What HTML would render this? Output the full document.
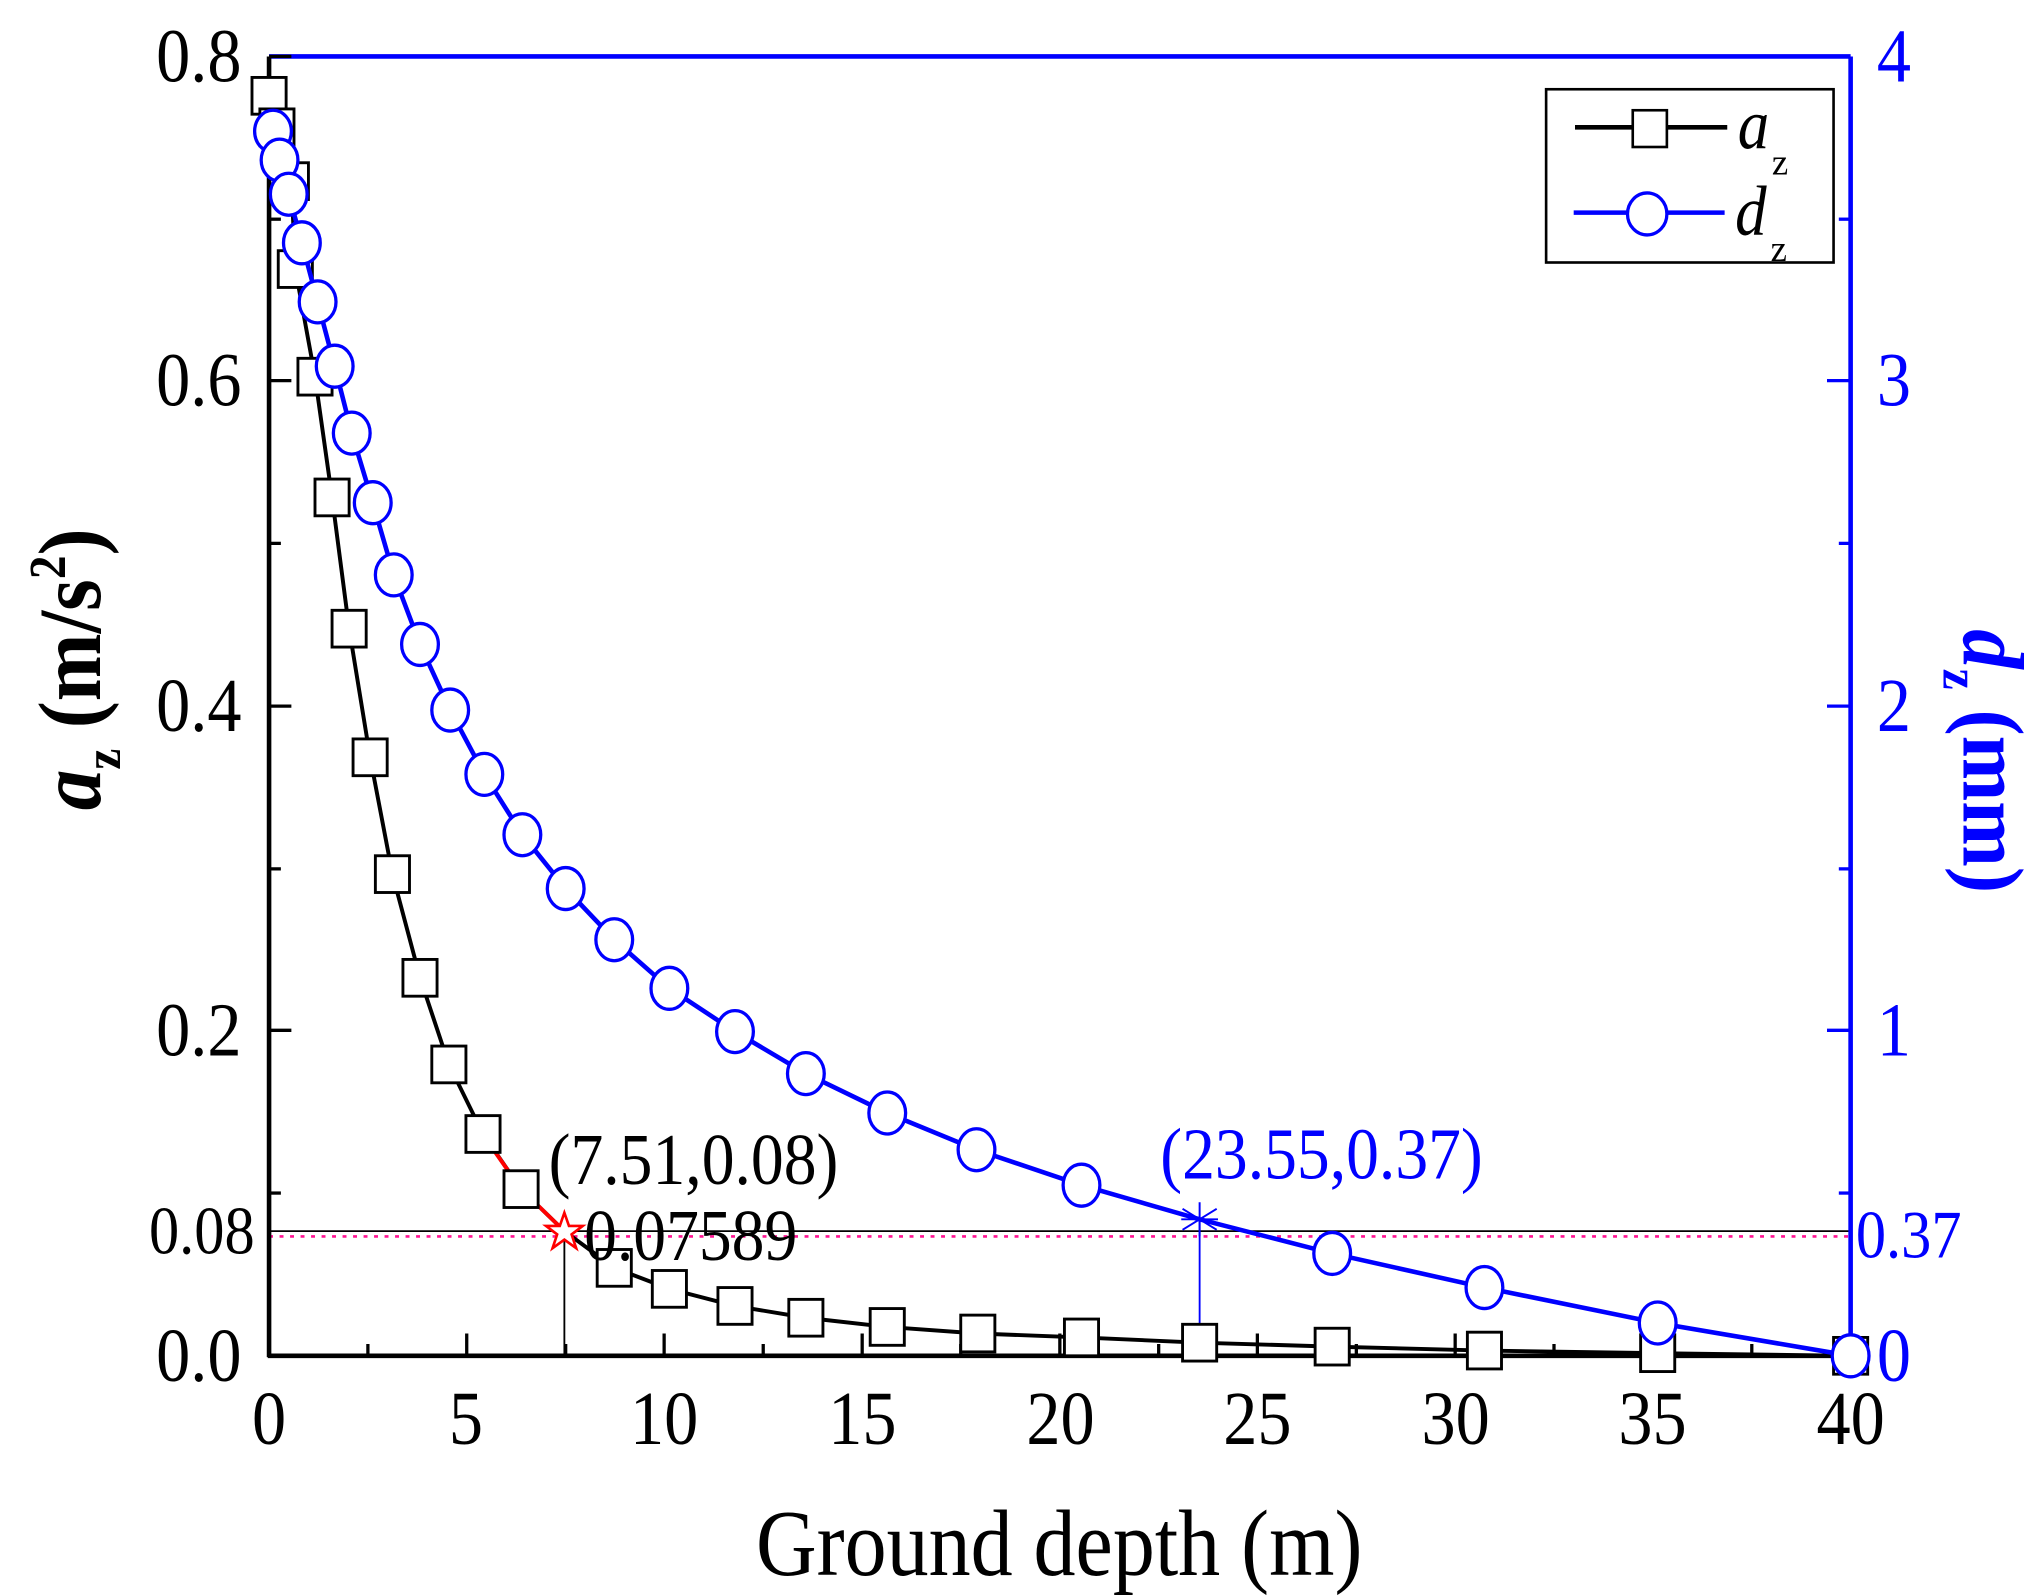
<!DOCTYPE html>
<html><head><meta charset="utf-8"><style>html,body{margin:0;padding:0;background:#fff}svg{display:block}</style></head>
<body>
<svg width="2037" height="1596" viewBox="0 0 1552 1216" preserveAspectRatio="none" xmlns="http://www.w3.org/2000/svg" font-family="Liberation Serif, serif">
<rect width="1552" height="1216" fill="#fff"/>
<line x1="205" y1="938" x2="1410" y2="938" stroke="#000" stroke-width="1.4"/>
<line x1="205" y1="942" x2="1410" y2="942" stroke="#ff1493" stroke-width="2" stroke-dasharray="3,5"/>
<line x1="430" y1="938" x2="430" y2="1033" stroke="#000" stroke-width="1.4"/>
<line x1="914" y1="929" x2="914" y2="1033" stroke="#00f" stroke-width="1.4"/>
<line x1="205" y1="43" x2="1410" y2="43" stroke="#00f" stroke-width="3.5"/>
<line x1="1410" y1="43" x2="1410" y2="1033" stroke="#00f" stroke-width="3.5"/>
<line x1="205" y1="43" x2="205" y2="1034" stroke="#000" stroke-width="3.5"/>
<line x1="204" y1="1033" x2="1410" y2="1033" stroke="#000" stroke-width="3.5"/>
<g stroke="#000" stroke-width="2.5">
<line x1="205" y1="43" x2="222" y2="43"/><line x1="205" y1="167" x2="214" y2="167"/>
<line x1="205" y1="290" x2="222" y2="290"/><line x1="205" y1="414" x2="214" y2="414"/>
<line x1="205" y1="538" x2="222" y2="538"/><line x1="205" y1="662" x2="214" y2="662"/>
<line x1="205" y1="785" x2="222" y2="785"/><line x1="205" y1="909" x2="214" y2="909"/>
<line x1="355.6" y1="1033" x2="355.6" y2="1016"/><line x1="506" y1="1033" x2="506" y2="1016"/>
<line x1="656.9" y1="1033" x2="656.9" y2="1016"/><line x1="807.5" y1="1033" x2="807.5" y2="1016"/>
<line x1="958" y1="1033" x2="958" y2="1016"/><line x1="1108.7" y1="1033" x2="1108.7" y2="1016"/>
<line x1="1259.4" y1="1033" x2="1259.4" y2="1016"/>
<line x1="280.3" y1="1033" x2="280.3" y2="1024"/><line x1="431" y1="1033" x2="431" y2="1024"/>
<line x1="581.5" y1="1033" x2="581.5" y2="1024"/><line x1="732" y1="1033" x2="732" y2="1024"/>
<line x1="882.8" y1="1033" x2="882.8" y2="1024"/><line x1="1033.4" y1="1033" x2="1033.4" y2="1024"/>
<line x1="1184" y1="1033" x2="1184" y2="1024"/><line x1="1334.7" y1="1033" x2="1334.7" y2="1024"/>
</g>
<g stroke="#00f" stroke-width="2.5">
<line x1="1410" y1="167" x2="1401" y2="167"/><line x1="1410" y1="290" x2="1392" y2="290"/>
<line x1="1410" y1="414" x2="1401" y2="414"/><line x1="1410" y1="538" x2="1392" y2="538"/>
<line x1="1410" y1="662" x2="1401" y2="662"/><line x1="1410" y1="785" x2="1392" y2="785"/>
<line x1="1410" y1="909" x2="1401" y2="909"/>
</g>
<g font-size="52" fill="#000" text-anchor="end">
<text transform="translate(184,62) scale(1,1.12)">0.8</text>
<text transform="translate(184,309) scale(1,1.12)">0.6</text>
<text transform="translate(184,557) scale(1,1.12)">0.4</text>
<text transform="translate(184,804) scale(1,1.12)">0.2</text>
<text transform="translate(184,1052) scale(1,1.12)">0.0</text>
<text transform="translate(194,955) scale(1,1.12)" font-size="46">0.08</text>
</g>
<g font-size="52" fill="#000" text-anchor="middle">
<text transform="translate(205,1100) scale(1,1.12)">0</text>
<text transform="translate(355,1100) scale(1,1.12)">5</text>
<text transform="translate(506,1100) scale(1,1.12)">10</text>
<text transform="translate(657,1100) scale(1,1.12)">15</text>
<text transform="translate(808,1100) scale(1,1.12)">20</text>
<text transform="translate(958,1100) scale(1,1.12)">25</text>
<text transform="translate(1109,1100) scale(1,1.12)">30</text>
<text transform="translate(1259,1100) scale(1,1.12)">35</text>
<text transform="translate(1410,1100) scale(1,1.12)">40</text>
</g>
<g font-size="52" fill="#00f">
<text transform="translate(1430,62) scale(1,1.12)">4</text>
<text transform="translate(1430,309) scale(1,1.12)">3</text>
<text transform="translate(1430,557) scale(1,1.12)">2</text>
<text transform="translate(1430,804) scale(1,1.12)">1</text>
<text transform="translate(1430,1052) scale(1,1.12)">0</text>
<text transform="translate(1414,958) scale(1,1.12)" font-size="46">0.37</text>
</g>
<text transform="translate(807,1200) scale(1,1.12)" font-size="64" text-anchor="middle">Ground depth (m)</text>
<text transform="translate(76,510) rotate(-90) scale(1,1.1)" font-size="62" font-weight="bold" text-anchor="middle"><tspan font-style="italic">a</tspan><tspan font-size="36" dy="14">z</tspan><tspan dy="-14"> (m/s</tspan><tspan font-size="36" dy="-24">2</tspan><tspan dy="24">)</tspan></text>
<text transform="translate(1496,580) rotate(90) scale(1,1.1)" font-size="60" font-weight="bold" fill="#00f" text-anchor="middle"><tspan font-style="italic">d</tspan><tspan font-size="36" dy="14">z</tspan><tspan dy="-14"> (mm)</tspan></text>
<polyline fill="none" stroke="#000" stroke-width="3" points="205,73 211,97 222,138 225,205 240,287 253,379 266,479 282,577 299,666 320,745 342,811 368,864 397,906 430,938 468,966 510,982 560,995 614,1004 676,1011 745,1016 824,1019 914,1023 1015,1026 1131,1029 1263,1031 1410,1033"/>
<polyline fill="none" stroke="#f00" stroke-width="3" points="376,876 397,906 430,938"/>
<g fill="#fff" stroke="#000" stroke-width="2.2">
<rect x="192" y="59" width="26" height="28"/><rect x="198" y="83" width="26" height="28"/>
<rect x="209" y="124" width="26" height="28"/><rect x="212" y="191" width="26" height="28"/>
<rect x="227" y="273" width="26" height="28"/><rect x="240" y="365" width="26" height="28"/>
<rect x="253" y="465" width="26" height="28"/><rect x="269" y="563" width="26" height="28"/>
<rect x="286" y="652" width="26" height="28"/><rect x="307" y="731" width="26" height="28"/>
<rect x="329" y="797" width="26" height="28"/><rect x="355" y="850" width="26" height="28"/>
<rect x="384" y="892" width="26" height="28"/><rect x="455" y="952" width="26" height="28"/>
<rect x="497" y="968" width="26" height="28"/><rect x="547" y="981" width="26" height="28"/>
<rect x="601" y="990" width="26" height="28"/><rect x="663" y="997" width="26" height="28"/>
<rect x="732" y="1002" width="26" height="28"/><rect x="811" y="1005" width="26" height="28"/>
<rect x="901" y="1009" width="26" height="28"/><rect x="1002" y="1012" width="26" height="28"/>
<rect x="1118" y="1015" width="26" height="28"/><rect x="1250" y="1017" width="26" height="28"/>
<rect x="1397" y="1019" width="26" height="28"/>
</g>
<polyline fill="none" stroke="#00f" stroke-width="3.5" points="208,100 213,122 220,148 230,185 242,230 255,279 268,330 284,383 300,438 320,491 343,541 369,590 398,636 431,677 468,716 510,753 560,786 614,818 676,848 744,876 824,903 914,929 1015,955 1131,981 1263,1008 1410,1033"/>
<g fill="#fff" stroke="#00f" stroke-width="2.5">
<ellipse cx="208" cy="100" rx="14" ry="16"/><ellipse cx="213" cy="122" rx="14" ry="16"/>
<ellipse cx="220" cy="148" rx="14" ry="16"/><ellipse cx="230" cy="185" rx="14" ry="16"/>
<ellipse cx="242" cy="230" rx="14" ry="16"/><ellipse cx="255" cy="279" rx="14" ry="16"/>
<ellipse cx="268" cy="330" rx="14" ry="16"/><ellipse cx="284" cy="383" rx="14" ry="16"/>
<ellipse cx="300" cy="438" rx="14" ry="16"/><ellipse cx="320" cy="491" rx="14" ry="16"/>
<ellipse cx="343" cy="541" rx="14" ry="16"/><ellipse cx="369" cy="590" rx="14" ry="16"/>
<ellipse cx="398" cy="636" rx="14" ry="16"/><ellipse cx="431" cy="677" rx="14" ry="16"/>
<ellipse cx="468" cy="716" rx="14" ry="16"/><ellipse cx="510" cy="753" rx="14" ry="16"/>
<ellipse cx="560" cy="786" rx="14" ry="16"/><ellipse cx="614" cy="818" rx="14" ry="16"/>
<ellipse cx="676" cy="848" rx="14" ry="16"/><ellipse cx="744" cy="876" rx="14" ry="16"/>
<ellipse cx="824" cy="903" rx="14" ry="16"/><ellipse cx="1015" cy="955" rx="14" ry="16"/>
<ellipse cx="1131" cy="981" rx="14" ry="16"/><ellipse cx="1263" cy="1008" rx="14" ry="16"/>
<ellipse cx="1410" cy="1033" rx="14" ry="16"/>
</g>
<polygon points="430,924 433.5,934 444,934 435.5,940.5 439,951 430,944.5 421,951 424.5,940.5 416,934 426.5,934" fill="#fff" stroke="#f00" stroke-width="2"/>
<g stroke="#00f" stroke-width="1.5"><line x1="914" y1="916" x2="914" y2="942"/><line x1="901" y1="921" x2="927" y2="937"/><line x1="901" y1="937" x2="927" y2="921"/><line x1="900" y1="929" x2="928" y2="929"/></g>
<text transform="translate(418,902) scale(1,1.12)" font-size="50">(7.51,0.08)</text>
<text transform="translate(445,960) scale(1,1.12)" font-size="50">0.07589</text>
<text transform="translate(884,898) scale(1,1.12)" font-size="50" fill="#00f">(23.55,0.37)</text>
<rect x="1178" y="68" width="219" height="132" fill="#fff" stroke="#000" stroke-width="2"/>
<line x1="1200" y1="97" x2="1316" y2="97" stroke="#000" stroke-width="3.5"/>
<rect x="1244" y="84" width="26" height="28" fill="#fff" stroke="#000" stroke-width="2"/>
<line x1="1199" y1="162" x2="1314" y2="162" stroke="#00f" stroke-width="3.5"/>
<ellipse cx="1255" cy="163" rx="15" ry="16" fill="#fff" stroke="#00f" stroke-width="2.5"/>
<text transform="translate(1324,113) scale(1,1.12)" font-size="48" font-style="italic">a</text><text x="1350" y="133" font-size="28">z</text>
<text transform="translate(1322,179) scale(1,1.12)" font-size="48" font-style="italic">d</text><text x="1349" y="199" font-size="28">z</text>
</svg>
</body></html>
